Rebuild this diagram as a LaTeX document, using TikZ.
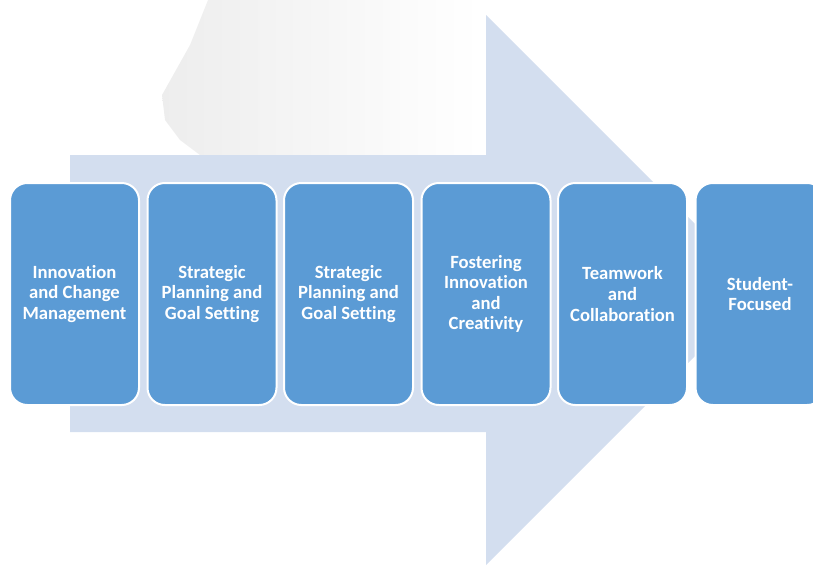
\documentclass[tikz,border=0pt]{standalone}
\usepackage{fontspec}
\setmainfont{Carlito}[Ligatures=NoCommon]
\begin{document}
\begin{tikzpicture}[x=0.75pt,y=-0.75pt,
  box/.style={draw=white, line width=1.5pt, fill=boxblue, rounded corners=13pt,
    minimum width=96.75pt, minimum height=166.5pt, align=center, text=white,
    font=\fontsize{14}{15.4}\selectfont\bfseries, inner sep=0pt}]
\definecolor{boxblue}{HTML}{5B9BD5}
\definecolor{arrowblue}{HTML}{D3DEEF}
\useasboundingbox (0,0) rectangle (813,565);
\begin{scope}
\clip (0,0) rectangle (813,565);
% faint shadow
\shade[left color=black!7, right color=white, shading angle=90]
  (208,0) -- (190,45) -- (162,95) -- (165,120) -- (180,140) -- (200,155)
  -- (480,155) -- (480,0) -- cycle;
% big arrow
\fill[arrowblue] (70,155) -- (486,155) -- (486,15) -- (761,290) -- (486,565)
  -- (486,432) -- (70,432) -- cycle;
\node[box] (b1) at (74.5,294) {Innovation\\and Change\\Management};
\node[box] (b2) at (212,294) {Strategic\\Planning and\\Goal Setting};
\node[box] (b3) at (348.5,294) {Strategic\\Planning and\\Goal Setting};
\node[box] (b4) at (486,294) {Fostering\\Innovation\\and\\Creativity};
\node[box] (b5) at (622.5,294) {Teamwork\\and\\Collaboration};
\node[box] (b6) at (760,294) {Student-\\Focused};
\end{scope}
\end{tikzpicture}
\end{document}
